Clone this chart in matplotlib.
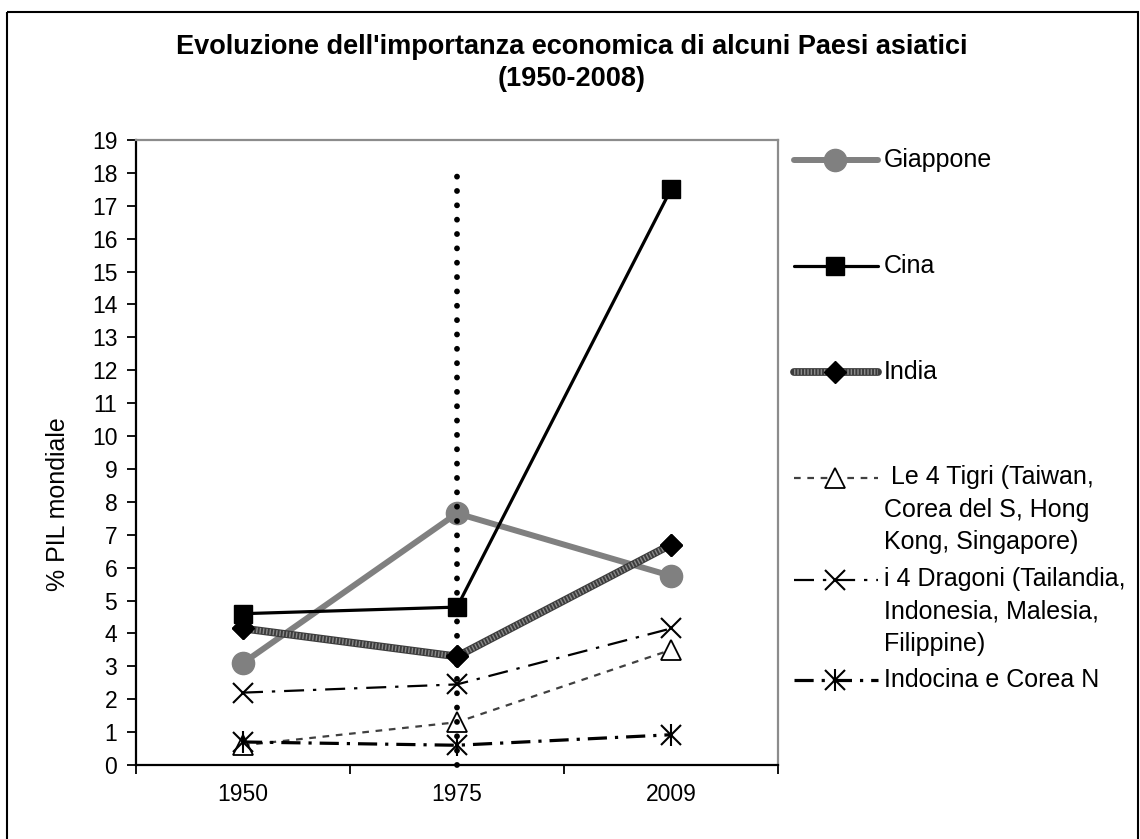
import matplotlib
matplotlib.use("Agg")
import matplotlib.pyplot as plt
from matplotlib.patches import Rectangle

plt.rcParams['font.family'] = ['Liberation Sans', 'DejaVu Sans']

years = ['1950', '1975', '2009']
giappone = [3.1, 7.65, 5.75]
cina = [4.6, 4.8, 17.5]
india = [4.15, 3.3, 6.7]
tigri = [0.6, 1.3, 3.5]
dragoni = [2.2, 2.45, 4.15]
indocina = [0.7, 0.6, 0.92]
linea_1975 = [0, 17.95]

labels = ['Giappone', 'Cina', 'India',
          ' Le 4 Tigri (Taiwan,\nCorea del S, Hong\nKong, Singapore)',
          'i 4 Dragoni (Tailandia,\nIndonesia, Malesia,\nFilippine)',
          'Indocina e Corea N']

W, H = 1140, 839
fig = plt.figure(figsize=(W / 100, H / 100), dpi=100)

def px(x0, y0, x1, y1):
    return [x0 / W, 1 - y1 / H, (x1 - x0) / W, (y1 - y0) / H]

ax = fig.add_axes(px(136, 140, 778, 765))
x = range(len(years))

styles = [
    dict(color='#808080', lw=4.3, marker='o', ms=16, mfc='#808080', mec='#808080'),
    dict(color='black', lw=2.3, marker='s', ms=13.5, mfc='black', mec='black'),
    dict(color='#3c3c3c', lw=5.6, marker='D', ms=11, mfc='black', mec='black'),
    dict(color='#404040', lw=1.6, ls=(0, (3, 3)), marker='^', ms=14, mfc='white', mec='black', mew=1.3),
    dict(color='black', lw=1.6, ls=(0, (9, 4, 1.5, 4)), marker='x', ms=14, mec='black', mew=1.5),
    dict(color='black', lw=2.3, ls=(0, (6, 2.5, 1, 2.5)), marker='x', ms=14, mec='black', mew=1.5),
]
series = [giappone, cina, india, tigri, dragoni, indocina]

for vals, st in zip(series, styles):
    ax.plot(x, vals, clip_on=False, **st)
# stripes on India line
ax.plot(x, india, color='#8a8a8a', lw=4.0, ls=(0, (0.25, 0.35)), dash_capstyle='butt', zorder=2.1)
ax.plot(x, india, ls='none', marker='D', ms=11, mfc='black', mec='black', zorder=2.2)
# vertical bar of the asterisk
ax.plot(x, indocina, ls='none', marker='|', ms=16, mec='black', mew=1.5, clip_on=False)

ax.plot([1, 1], linea_1975, color='black', lw=4.2, ls=(0, (0.01, 2.45)),
        dash_capstyle='round', clip_on=False, zorder=5)

ax.set_xlim(-0.5, 2.5)
ax.set_ylim(0, 19)
ax.set_yticks(range(0, 20))
ax.set_xticks([-0.5, 0.5, 1.5, 2.5])
ax.set_xticklabels([])
ax.set_xticks(list(x), minor=True)
ax.set_xticklabels(years, minor=True)
ax.tick_params(axis='x', which='minor', length=0, pad=13, labelsize=16.5)
ax.tick_params(axis='x', which='major', length=6.5, width=1.3, direction='out')
ax.tick_params(axis='y', length=6.5, width=1.3, direction='out', labelsize=16.5, pad=7)
for s in ['left', 'bottom']:
    ax.spines[s].set_linewidth(1.6)
    ax.spines[s].set_color('black')
for s in ['top', 'right']:
    ax.spines[s].set_linewidth(1.6)
    ax.spines[s].set_color('#8c8c8c')
ax.set_ylabel('% PIL mondiale', fontsize=18)
ax.yaxis.set_label_coords(-0.103, 0.4176)

# overlay in pixel coordinates for title, legend and frame
ov = fig.add_axes([0, 0, 1, 1])
ov.set_xlim(0, W)
ov.set_ylim(H, 0)
ov.set_axis_off()
ov.patch.set_alpha(0)
ov.add_patch(Rectangle((7, 12), 1131, 840, fill=False, lw=1.5, ec='black', clip_on=False))
ov.text(572, 47, "Evoluzione dell'importanza economica di alcuni Paesi asiatici",
        ha='center', va='center', fontsize=19.5, fontweight='bold')
ov.text(572, 79, "(1950-2008)", ha='center', va='center', fontsize=19.5, fontweight='bold')

leg_y = [160, 266, 372, 478, 580, 680]
for i, (yy, st, lab) in enumerate(zip(leg_y, styles, labels)):
    line_st = {k: v for k, v in st.items() if k not in ('marker', 'ms', 'mfc', 'mec', 'mew')}
    ov.plot([794, 878], [yy, yy], solid_capstyle='round', **line_st)
    if i == 2:
        ov.plot([794, 878], [yy, yy], color='#8a8a8a', lw=4.0, ls=(0, (0.25, 0.35)), dash_capstyle='butt')
    mk = {k: v for k, v in st.items() if k in ('marker', 'ms', 'mfc', 'mec', 'mew')}
    ov.plot([835], [yy], ls='none', **mk)
    if i == 5:
        ov.plot([835], [yy], ls='none', marker='|', ms=16, mec='black', mew=1.5)
    if '\n' in lab:
        ov.text(884, yy - 13, lab, ha='left', va='top', fontsize=18, linespacing=1.45)
    else:
        ov.text(884, yy, lab, ha='left', va='center', fontsize=18)

fig.savefig('out.png', dpi=100)
